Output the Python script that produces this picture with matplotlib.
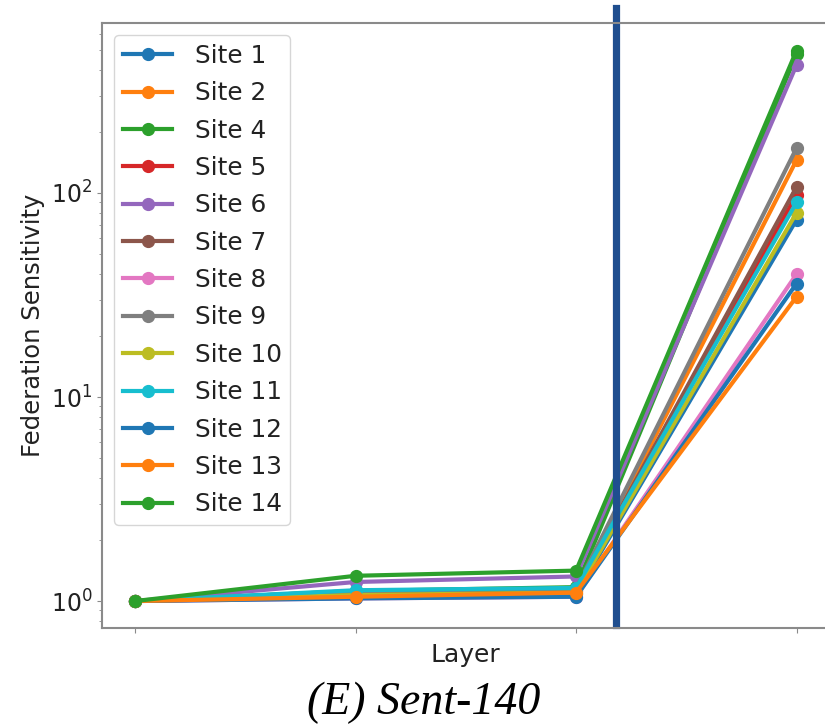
import matplotlib
matplotlib.use("Agg")
import matplotlib.pyplot as plt
import numpy as np

# sensitivity per layer for each site
layers = [0, 1, 2, 3]
sites = ["Site 1", "Site 2", "Site 4", "Site 5", "Site 6", "Site 7", "Site 8",
         "Site 9", "Site 10", "Site 11", "Site 12", "Site 13", "Site 14"]
site_1 = [1.0, 1.05, 1.08, 74]
site_2 = [1.0, 1.06, 1.12, 145]
site_4 = [1.0, 1.12, 1.17, 480]
site_5 = [1.0, 1.08, 1.12, 98]
site_6 = [1.0, 1.24, 1.32, 424]
site_7 = [1.0, 1.10, 1.14, 107]
site_8 = [1.0, 1.03, 1.05, 40]
site_9 = [1.0, 1.12, 1.15, 166]
site_10 = [1.0, 1.07, 1.10, 80]
site_11 = [1.0, 1.13, 1.16, 90]
site_12 = [1.0, 1.03, 1.05, 36]
site_13 = [1.0, 1.05, 1.10, 31]
site_14 = [1.0, 1.33, 1.41, 499]
values = [site_1, site_2, site_4, site_5, site_6, site_7, site_8,
          site_9, site_10, site_11, site_12, site_13, site_14]

split_x = 2.18

fig = plt.figure(figsize=(8.25, 7.26), dpi=100)
ax = fig.add_axes([0.1236, 0.135, 0.882, 0.8333])

colors = plt.rcParams["axes.prop_cycle"].by_key()["color"]
for i, (name, v) in enumerate(zip(sites, values)):
    ax.plot(layers, v, marker="o", lw=3, ms=8.5, color=colors[i % 10], label=name)

ax.set_yscale("log")
ax.set_xlim(-0.15, 3.15)
ax.set_ylim(10 ** -0.132, 10 ** 2.833)
ax.set_xticks(layers)
ax.set_xticklabels([])
for s in ax.spines.values():
    s.set_color("#8a8a8a")
    s.set_linewidth(1.5)
ax.tick_params(axis="both", which="both", colors="#8a8a8a", labelcolor="#222222",
               labelsize=17)

ax.set_xlabel("Layer", fontsize=18, color="#222222", labelpad=4)
ax.set_ylabel("Federation Sensitivity", fontsize=17.5, color="#222222", labelpad=4)

ax.axvline(split_x, ymin=0.005, ymax=1.025, clip_on=False, color="#1f4e8f", lw=5.2)

leg = ax.legend(loc="upper left", fontsize=17.8, borderaxespad=0.5,
                handlelength=2.0, handletextpad=0.9, labelspacing=0.54, borderpad=0.35)
for t in leg.get_texts():
    t.set_color("#222222")

fig.text(0.514, 0.016, "(E) Sent-140", ha="center", va="baseline",
         family=["Liberation Serif", "DejaVu Serif"], style="italic", fontsize=33)

fig.savefig("out.png", dpi=100)
